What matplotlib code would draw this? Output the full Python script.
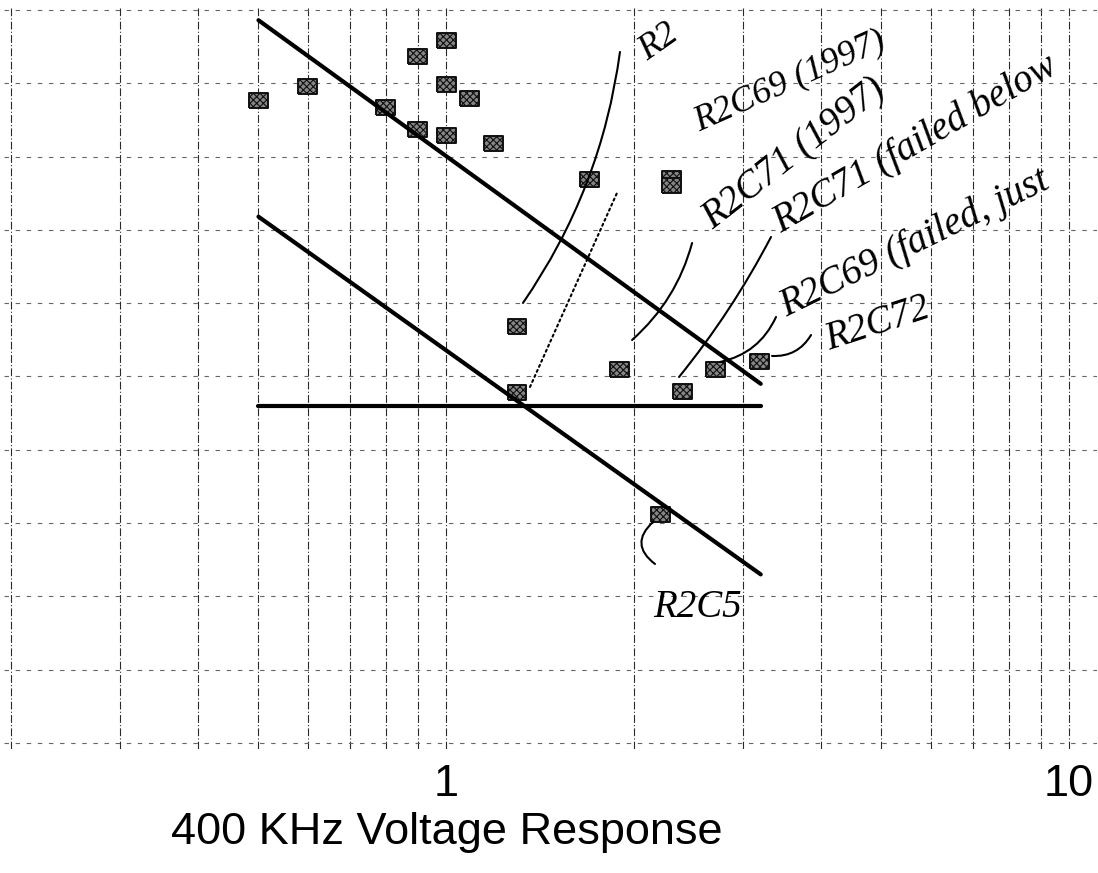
import numpy as np
import matplotlib
matplotlib.use("Agg")
import matplotlib.pyplot as plt
from matplotlib.ticker import NullFormatter

# measured points (400 KHz voltage response vs. unlabelled y scale)
x_pts = [0.5, 0.6, 0.8, 0.9, 1.0, 1.0, 1.09, 0.9, 1.0, 1.19,
         1.70, 2.30, 2.30, 1.30, 1.30, 1.90, 2.40, 2.71, 3.19, 2.21]
y_pts = [8.76, 8.96, 8.67, 9.37, 9.58, 8.98, 8.79, 8.37, 8.29, 8.18,
         7.69, 7.70, 7.60, 5.68, 4.78, 5.09, 4.79, 5.10, 5.20, 3.12]

# the three ruled lines
upper_x = [0.5, 3.2]
upper_y = [9.86, 4.90]
lower_x = [0.5, 3.2]
lower_y = [7.18, 2.30]
flat_x = [0.5, 3.2]
flat_y = [4.6, 4.6]

major_ticks = [1, 10]
major_labels = ['1', '10']
minor_ticks = [0.2, 0.3, 0.4, 0.5, 0.6, 0.7, 0.8, 0.9, 2, 3, 4, 5, 6, 7, 8, 9]
y_grid = list(range(11))

# handwritten notes: text, (x, y) start, rotation, size
notes = ['R2', 'R2C69 (1997)', 'R2C71 (1997)', 'R2C71 (failed below',
         'R2C69 (failed, just', 'R2C72', 'R2C5']
note_x = [2.10, 2.547, 2.683, 3.45, 3.514, 4.12, 2.149]
note_y = [9.30, 8.35, 7.0, 6.958, 5.81, 5.36, 1.72]
note_rot = [35, 24, 38, 30, 26, 18, 0]
note_size = [26, 26, 28, 28, 28, 28, 28]

# leader strokes from the notes to the points: (start, end, bend, style)
lead_x0 = [2.149, 3.336, 2.754, 2.366, 1.989, 1.329, 1.364]
lead_y0 = [3.015, 5.28, 5.198, 4.993, 5.498, 6.003, 4.857]
lead_x1 = [2.165, 3.854, 3.386, 3.324, 2.483, 1.902, 1.881]
lead_y1 = [2.442, 5.566, 5.812, 6.903, 6.821, 9.427, 7.503]
lead_rad = [0.6, 0.3, 0.25, 0.05, 0.15, 0.12, 0.0]
lead_ls = ['-', '-', '-', '-', '-', '-', ':']

fig = plt.figure(figsize=(10.98, 8.73), dpi=100)
ax = fig.add_axes([0.00337, 0.1422, 0.99595, 0.8489])
ax.set_xscale('log')
ax.set_xlim(0.195, 11.1)
ax.set_ylim(-0.08, 10.03)

for s in ax.spines.values():
    s.set_visible(False)

ax.set_xticks(major_ticks)
ax.set_xticklabels(major_labels)
ax.set_xticks(minor_ticks, minor=True)
ax.xaxis.set_minor_formatter(NullFormatter())
ax.set_yticks(y_grid)
ax.set_yticklabels([])
ax.tick_params(which='both', length=0)
ax.tick_params(axis='x', which='major', pad=11, labelsize=32.5)
for lab in ax.get_xticklabels():
    lab.set_family('Liberation Sans')

ax.grid(True, which='both', axis='x', color='#2a2a2a', lw=0.8, ls=(0, (7, 2, 1, 2)))
ax.grid(True, which='major', axis='y', color='#666666', lw=0.8, ls=(0, (4, 6)))
ax.set_axisbelow(True)

ax.set_xlabel('400 KHz Voltage Response', fontsize=32.5, family='Liberation Sans')
ax.xaxis.set_label_coords(0.4054, -0.0851)

plt.rcParams['hatch.linewidth'] = 0.8
box = [(-1, -0.79), (1, -0.79), (1, 0.79), (-1, 0.79), (-1, -0.79)]
ax.scatter(x_pts, y_pts, marker=box, s=187, facecolor='#858585',
           edgecolor='#101010', linewidth=1.4, hatch='xxxxx', zorder=3)

for xs, ys in [(upper_x, upper_y), (lower_x, lower_y), (flat_x, flat_y)]:
    ax.plot(xs, ys, color='black', lw=3.0, solid_capstyle='round', zorder=4)

for i in range(len(lead_x0)):
    ax.annotate('', xy=(lead_x1[i], lead_y1[i]), xytext=(lead_x0[i], lead_y0[i]),
                arrowprops=dict(arrowstyle='-', color='black', lw=1.5, ls=lead_ls[i],
                                shrinkA=0, shrinkB=0,
                                connectionstyle='arc3,rad=%s' % lead_rad[i]),
                zorder=5)

for t, x, y, r, fs in zip(notes, note_x, note_y, note_rot, note_size):
    ax.text(x, y, t, rotation=r, rotation_mode='anchor', ha='left', va='baseline',
            fontsize=fs, family='Liberation Serif', style='italic', zorder=5,
            clip_on=False)

fig.savefig('out.png', dpi=100)
